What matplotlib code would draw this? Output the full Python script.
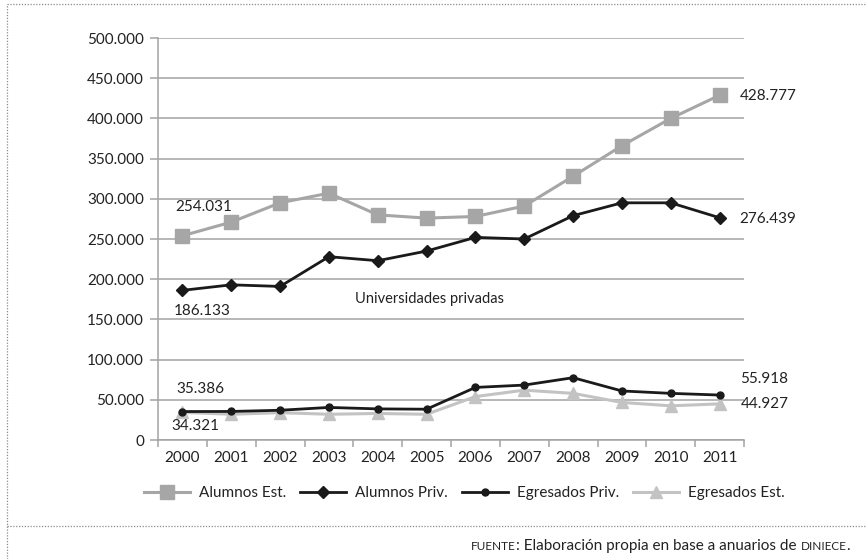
import matplotlib
matplotlib.use("Agg")
import matplotlib.pyplot as plt
from matplotlib.lines import Line2D
from matplotlib.ticker import FuncFormatter, FixedLocator

# ---- data ----
years = ["2000", "2001", "2002", "2003", "2004", "2005",
         "2006", "2007", "2008", "2009", "2010", "2011"]
alumnos_est = [254031, 271000, 295000, 307000, 280000, 276000,
               278000, 291000, 328000, 366000, 400000, 428777]
alumnos_priv = [186133, 193000, 191000, 228000, 223000, 235000,
                252000, 250000, 279000, 295000, 295000, 276439]
egresados_priv = [35386, 35500, 37000, 40500, 38700, 38300,
                  65400, 68300, 77500, 61000, 58000, 55918]
egresados_est = [34321, 32000, 34000, 32000, 33000, 32000,
                 54000, 62000, 58000, 46700, 42500, 44927]
series_names = ["Alumnos Est.", "Alumnos Priv.", "Egresados Priv.", "Egresados Est."]
y_ticks = [0, 50000, 100000, 150000, 200000, 250000, 300000, 350000, 400000, 450000, 500000]
annotation_text = "Universidades privadas"
source_parts = [("FUENTE", True), (": Elaboración propia en base a anuarios de ", False),
                ("DINIECE", True), (".", False)]

TXT = "#222222"
GRID = "#a3a3a3"
GRAY1 = "#a6a6a6"
GRAY2 = "#c3c3c3"
BLACK = "#1a1a1a"
MAIN_FONT = ["Lato", "DejaVu Sans"]
NARROW_FONT = ["Liberation Sans Narrow", "Lato", "DejaVu Sans"]

plt.rcParams["font.family"] = MAIN_FONT

W, H = 867, 559
fig = plt.figure(figsize=(W / 100, H / 100), dpi=100)
ax = fig.add_axes([158 / W, 1 - 440 / H, (744 - 158) / W, (440 - 38) / H])

x = list(range(len(years)))

ax.plot(x, alumnos_est, color=GRAY1, lw=2.2, marker="s", ms=9.5,
        label=series_names[0], zorder=3)
ax.plot(x, alumnos_priv, color=BLACK, lw=2.0, marker="D", ms=6.5,
        label=series_names[1], zorder=4)
ax.plot(x, egresados_priv, color=BLACK, lw=2.0, marker="o", ms=5,
        label=series_names[2], zorder=4)
ax.plot(x, egresados_est, color=GRAY2, lw=2.2, marker="^", ms=9,
        label=series_names[3], zorder=3)

ax.set_xlim(-0.5, len(years) - 0.5)
ax.set_ylim(0, 500000)

# axes styling
for s in ["top", "right"]:
    ax.spines[s].set_visible(False)
for s in ["left", "bottom"]:
    ax.spines[s].set_color(GRID)
    ax.spines[s].set_linewidth(1.1)

ax.set_yticks(y_ticks)
ax.yaxis.set_major_formatter(FuncFormatter(lambda v, p: f"{int(v):,}".replace(",", ".")))
ax.yaxis.grid(True, color=GRID, lw=1.1)
ax.set_axisbelow(True)
ax.tick_params(axis="y", length=6, width=1.1, color=GRID, pad=4,
               labelsize=11, labelcolor=TXT)

ax.set_xticks(x)
ax.set_xticklabels(years)
ax.xaxis.set_minor_locator(FixedLocator([i - 0.5 for i in range(len(years) + 1)]))
ax.tick_params(axis="x", which="major", length=0, pad=8, labelsize=11, labelcolor=TXT)
ax.tick_params(axis="x", which="minor", length=5, width=1.1, color=GRID)


def fmt(v):
    return f"{v:,}".replace(",", ".")


def lab(xi, val, dx, dy, ha="center"):
    ax.annotate(fmt(val), xy=(xi, val), xytext=(dx, dy), textcoords="offset pixels",
                ha=ha, va="center", fontsize=11, color=TXT)


last = len(years) - 1
lab(0, alumnos_est[0], 21, 29)
lab(0, alumnos_priv[0], 20, -21)
lab(0, egresados_priv[0], 18, 23)
lab(0, egresados_est[0], 13, -14)
lab(last, alumnos_est[last], 20, -1, ha="left")
lab(last, alumnos_priv[last], 20, -1, ha="left")
lab(last, egresados_priv[last], 21, 16, ha="left")
lab(last, egresados_est[last], 21, 0, ha="left")

ax.text(5.05, 175000, annotation_text, ha="center", va="center",
        fontsize=10.5, color=TXT)

# legend
fig.legend(loc="center", bbox_to_anchor=(464.5 / W, 1 - 493 / H), ncol=4,
           frameon=False, handlelength=3.0, handletextpad=0.6, columnspacing=0.9,
           prop={"family": NARROW_FONT, "size": 11}, labelcolor=TXT)

# dotted frame lines
dot = dict(color="#8a8a8a", lw=0.9, linestyle=(0, (1, 1.3)))
fig.add_artist(Line2D([7 / W, 1], [1 - 4 / H, 1 - 4 / H], **dot))
fig.add_artist(Line2D([7 / W, 7 / W], [0, 1 - 4 / H], **dot))
fig.add_artist(Line2D([7 / W, 1], [1 - 526 / H, 1 - 526 / H], **dot))

# source line, with small caps simulated by a smaller size
renderer = fig.canvas.get_renderer()
base_y = 1 - 550 / H
right_px = 850
texts = []
for s, small in source_parts:
    t = fig.text(0, base_y, s, ha="left", va="baseline",
                 fontsize=8.5 if small else 11, color=TXT, family=NARROW_FONT)
    texts.append(t)
widths = [t.get_window_extent(renderer).width for t in texts]
xpos = right_px - sum(widths)
for t, w in zip(texts, widths):
    t.set_x(xpos / W)
    xpos += w

fig.savefig("out.png", dpi=100)
